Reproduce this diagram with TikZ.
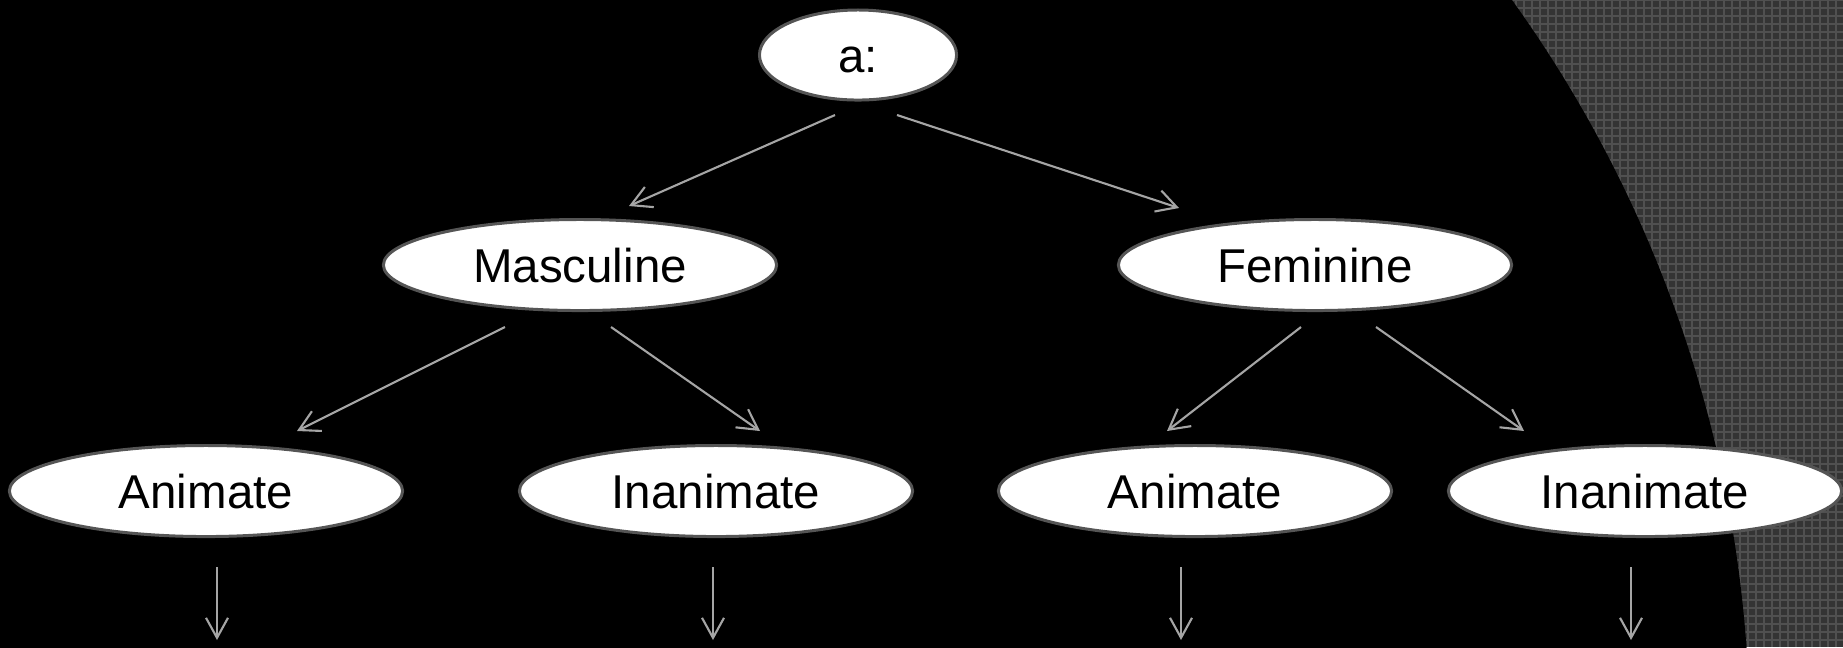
\documentclass[tikz,border=0pt]{standalone}
\usepackage{fontspec}
\setmainfont{Liberation Sans}
\usetikzlibrary{shapes.geometric,arrows.meta}
\definecolor{fondogris}{RGB}{52,52,52}
\definecolor{rejilla}{RGB}{80,80,80}
\definecolor{borde}{RGB}{85,85,85}
\definecolor{flechagris}{RGB}{165,165,165}

\begin{document}
\begin{tikzpicture}[x=0.01cm,y=-0.01cm,
    nodo/.style={ellipse, draw=borde, line width=0.85pt, fill=white, inner sep=0pt,
      minimum width=3.93cm, minimum height=0.91cm, text height=9.7pt, text depth=0pt,
      font=\fontsize{13.5}{16}\selectfont},
    flecha/.style={draw=flechagris, line width=0.6pt,
      -{Straight Barb[length=2mm,width=2.2mm]}}]
    % Fondo
    \useasboundingbox (0,0) rectangle (1843,647);
    \clip (0,0) rectangle (1843,647);
    \fill[fondogris] (0,0) rectangle (1843,647);
    \foreach \x in {1500,1508,...,1843}
      \draw[rejilla, line width=0.4pt] (\x,0) -- (\x,647);
    \foreach \y in {0,8,...,647}
      \draw[rejilla, line width=0.4pt] (1500,\y) -- (1843,\y);
    \fill[black] (483,739) circle [radius=12.66cm];

    % Nodos
    \node[nodo, minimum width=1.97cm, minimum height=0.9cm] (a) at (858,55) {a:};
    \node[nodo] (masc) at (580,265) {Masculine};
    \node[nodo] (fem) at (1315,265) {Feminine};
    \node[nodo] (ani1) at (206,491) {Animate};
    \node[nodo] (inan1) at (716,491) {Inanimate};
    \node[nodo] (ani2) at (1195,491) {Animate};
    \node[nodo] (inan2) at (1645,491) {Inanimate};

    % Extremos de las flechas
    \coordinate (a-izq) at (835,115);
    \coordinate (a-der) at (897,115);
    \coordinate (masc-in) at (629,206);
    \coordinate (fem-in) at (1179,208);
    \coordinate (masc-izq) at (505,327);
    \coordinate (masc-der) at (611,327);
    \coordinate (fem-izq) at (1301,327);
    \coordinate (fem-der) at (1376,327);
    \coordinate (ani1-in) at (297,431);
    \coordinate (inan1-in) at (760,431);
    \coordinate (ani2-in) at (1167,431);
    \coordinate (inan2-in) at (1524,431);

    % Flechas
    \draw[flecha] (a-izq) -- (masc-in);
    \draw[flecha] (a-der) -- (fem-in);
    \draw[flecha] (masc-izq) -- (ani1-in);
    \draw[flecha] (masc-der) -- (inan1-in);
    \draw[flecha] (fem-izq) -- (ani2-in);
    \draw[flecha] (fem-der) -- (inan2-in);

    % Flechas hacia abajo
    \foreach \n/\x in {ani1/217, inan1/713, ani2/1181, inan2/1631} {
      \coordinate (\n-sal) at (\x,567);
      \coordinate (\n-fin) at (\x,640);
      \draw[flecha] (\n-sal) -- (\n-fin);
    }
\end{tikzpicture}
\end{document}
